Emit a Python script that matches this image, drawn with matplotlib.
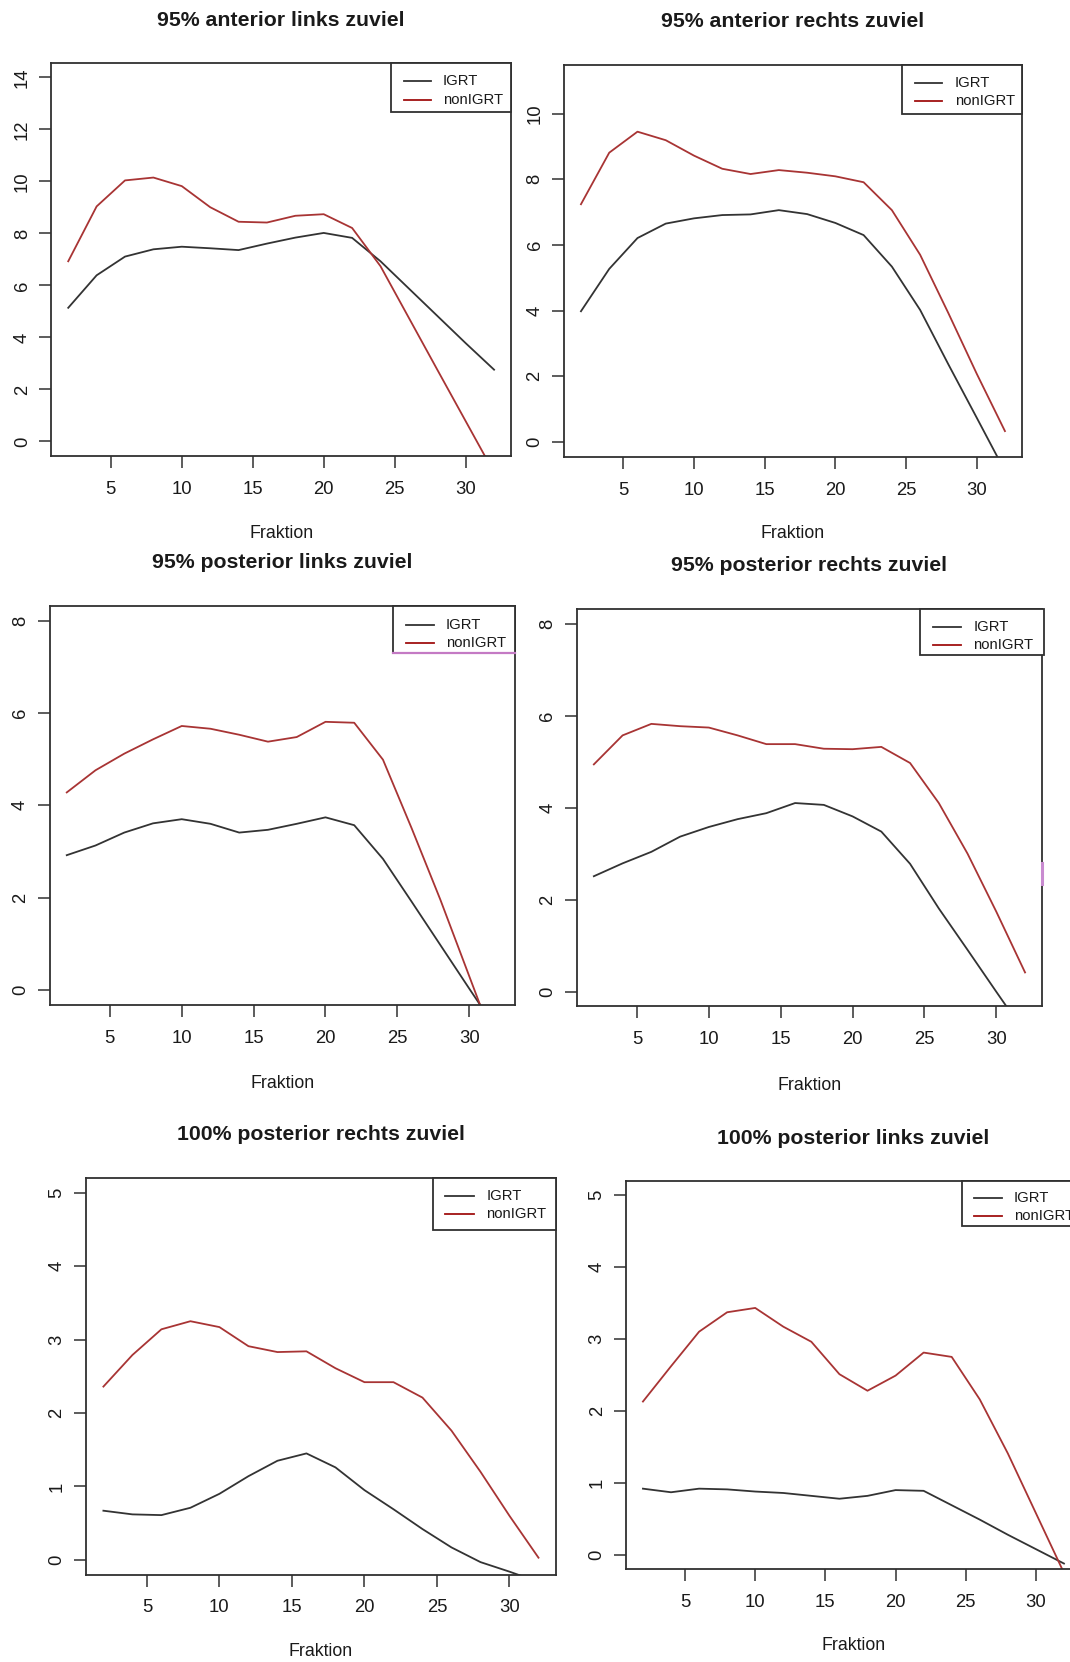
import matplotlib
matplotlib.use("Agg")
import matplotlib.pyplot as plt
from matplotlib.patches import Rectangle
from matplotlib.lines import Line2D

plt.rcParams['font.family'] = ['Liberation Sans', 'DejaVu Sans']

W, H = 1070, 1662

# data
fraktion = [2, 4, 6, 8, 10, 12, 14, 16, 18, 20, 22, 24, 26, 28, 30, 32]
series_labels = ['IGRT', 'nonIGRT']

titles = ['95% anterior links zuviel', '95% anterior rechts zuviel',
          '95% posterior links zuviel', '95% posterior rechts zuviel',
          '100% posterior rechts zuviel', '100% posterior links zuviel']

igrt_ant_li = [5.14, 6.39, 7.11, 7.39, 7.49, 7.43, 7.36, 7.61, 7.84, 8.02, 7.83, 6.93, 5.88, 4.83, 3.78, 2.76]
nonigrt_ant_li = [6.93, 9.04, 10.04, 10.15, 9.82, 9.01, 8.45, 8.42, 8.68, 8.74, 8.21, 6.74, 4.75, 2.76, 0.78, -1.2]

igrt_ant_re = [3.98, 5.27, 6.21, 6.65, 6.81, 6.91, 6.93, 7.06, 6.94, 6.67, 6.30, 5.34, 4.02, 2.36, 0.74, -0.89]
nonigrt_ant_re = [7.24, 8.81, 9.45, 9.19, 8.72, 8.32, 8.16, 8.28, 8.20, 8.09, 7.91, 7.06, 5.70, 3.92, 2.08, 0.33]

igrt_post_li = [2.92, 3.13, 3.41, 3.61, 3.70, 3.60, 3.41, 3.47, 3.60, 3.74, 3.57, 2.84, 1.91, 0.97, 0.03, -0.9]
nonigrt_post_li = [4.28, 4.76, 5.12, 5.43, 5.72, 5.66, 5.53, 5.38, 5.48, 5.81, 5.79, 4.99, 3.50, 1.95, 0.30, -1.35]

igrt_post_re = [2.51, 2.79, 3.04, 3.37, 3.58, 3.75, 3.88, 4.10, 4.06, 3.81, 3.48, 2.78, 1.81, 0.91, 0.0, -0.9]
nonigrt_post_re = [4.94, 5.57, 5.82, 5.77, 5.74, 5.57, 5.38, 5.38, 5.28, 5.27, 5.32, 4.97, 4.10, 3.00, 1.74, 0.42]

igrt_100_re = [0.67, 0.62, 0.61, 0.71, 0.90, 1.14, 1.35, 1.45, 1.26, 0.95, 0.69, 0.42, 0.17, -0.03, -0.16, -0.3]
nonigrt_100_re = [2.36, 2.79, 3.14, 3.25, 3.17, 2.91, 2.83, 2.84, 2.61, 2.42, 2.42, 2.21, 1.76, 1.20, 0.60, 0.03]

igrt_100_li = [0.92, 0.87, 0.92, 0.91, 0.88, 0.86, 0.82, 0.78, 0.82, 0.90, 0.89, 0.69, 0.49, 0.28, 0.08, -0.12]
nonigrt_100_li = [2.13, 2.62, 3.10, 3.37, 3.43, 3.17, 2.96, 2.51, 2.28, 2.49, 2.81, 2.75, 2.16, 1.41, 0.58, -0.25]

yticks = [[0, 2, 4, 6, 8, 10, 12, 14], [0, 2, 4, 6, 8, 10],
          [0, 2, 4, 6, 8], [0, 2, 4, 6, 8], [0, 1, 2, 3, 4, 5], [0, 1, 2, 3, 4, 5]]
ylims = [(-0.56, 14.56), (-0.45, 11.49), (-0.32, 8.32), (-0.32, 8.32), (-0.2, 5.2), (-0.2, 5.2)]
xticks = [5, 10, 15, 20, 25, 30]

series = [(igrt_ant_li, nonigrt_ant_li), (igrt_ant_re, nonigrt_ant_re),
          (igrt_post_li, nonigrt_post_li), (igrt_post_re, nonigrt_post_re),
          (igrt_100_re, nonigrt_100_re), (igrt_100_li, nonigrt_100_li)]

# pixel layout of each pasted panel: box (L, R, T, B), title y, xlabel y,
# legend (L, R, B), legend line x0, x1, text x, row y's
layout = [
    dict(box=(51.2, 511.1, 62.9, 456.0), ty=20.5, ly=534, leg=(390.6, 511.1, 111.7), lx=(403.6, 430.6, 442.9), rows=(81, 99.7)),
    dict(box=(564.0, 1021.9, 64.7, 456.7), ty=21.9, ly=534, leg=(901.8, 1021.9, 113.5), lx=(914.7, 942.0, 954.6), rows=(83, 101.4)),
    dict(box=(49.5, 515.2, 606.0, 1004.7), ty=562.8, ly=1083, leg=(393.4, 515.2, 653.0), lx=(406.0, 434.0, 446.0), rows=(624.7, 643.0)),
    dict(box=(576.6, 1042.3, 608.8, 1006.5), ty=565.7, ly=1086, leg=(919.9, 1044.0, 655.1), lx=(932.5, 960.8, 973.4), rows=(627.2, 645.2)),
    dict(box=(86.0, 555.9, 1178.0, 1574.6), ty=1134.5, ly=1652, leg=(432.6, 556.0, 1230.0), lx=(445.2, 473.6, 486.2), rows=(1195.7, 1214.0)),
    dict(box=(626.1, 1080.8, 1180.5, 1569.3), ty=1138, ly=1645, leg=(961.5, 1080.8, 1225.7), lx=(974.4, 1001.7, 1013.7), rows=(1198.0, 1215.8)),
]

BLACK = '#333333'
RED = '#a83434'
FRAME = '#303030'
TXT = '#1a1a1a'


def fx(px):
    return px / W


def fy(py):
    return 1 - py / H


fig = plt.figure(figsize=(W / 100, H / 100), dpi=100)
fig.patch.set_facecolor('white')

for i, lay in enumerate(layout):
    L, R, T, B = lay['box']
    ax = fig.add_axes([fx(L), fy(B), (R - L) / W, (B - T) / H])
    igrt, nonigrt = series[i]
    ax.plot(fraktion, igrt, color=BLACK, lw=1.3)
    ax.plot(fraktion, nonigrt, color=RED, lw=1.3)
    ax.set_xlim(0.8, 33.2)
    ax.set_ylim(*ylims[i])
    ax.set_xticks(xticks)
    ax.set_yticks(yticks[i])
    for sp in ax.spines.values():
        sp.set_color(FRAME)
        sp.set_linewidth(1.3)
    ax.tick_params(direction='out', length=8.6, width=1.1, color=FRAME,
                   labelsize=13.3, labelcolor=TXT)
    ax.tick_params(axis='x', pad=9.3)
    ax.tick_params(axis='y', pad=6.1, labelrotation=90)
    for lab in ax.get_yticklabels():
        lab.set_va('center')

    cx = (L + min(R, 1080.8)) / 2
    fig.text(fx(cx), fy(lay['ty']), titles[i], ha='center', va='center',
             fontsize=15.3, fontweight='bold', color=TXT)
    fig.text(fx(cx), fy(lay['ly']), 'Fraktion', ha='center', va='center',
             fontsize=12.8, color=TXT)

    # legend box in the top right corner
    gl, gr, gb = lay['leg']
    rect = Rectangle((fx(gl), fy(gb)), (gr - gl) / W, (gb - T) / H,
                     transform=fig.transFigure, facecolor='white',
                     edgecolor=FRAME, lw=1.3, zorder=5)
    fig.add_artist(rect)
    x0, x1, tx = lay['lx']
    for row, col, lab in zip(lay['rows'], [BLACK, '#a01010'], series_labels):
        fig.add_artist(Line2D([fx(x0), fx(x1)], [fy(row), fy(row)],
                              transform=fig.transFigure, color=col, lw=1.3, zorder=6))
        fig.text(fx(tx), fy(row), lab, ha='left', va='center',
                 fontsize=10.7, color=TXT, zorder=6)

# purple traces that are in the pasted picture
fig.add_artist(Line2D([fx(393.4), fx(515.2)], [fy(653.0), fy(653.0)],
                      transform=fig.transFigure, color='#c47ac4', lw=1.6, zorder=7))
fig.add_artist(Line2D([fx(1042.3), fx(1042.3)], [fy(863), fy(884)],
                      transform=fig.transFigure, color='#c98bd0', lw=2.2, zorder=7))

fig.savefig('out.png', dpi=100, facecolor='white')
